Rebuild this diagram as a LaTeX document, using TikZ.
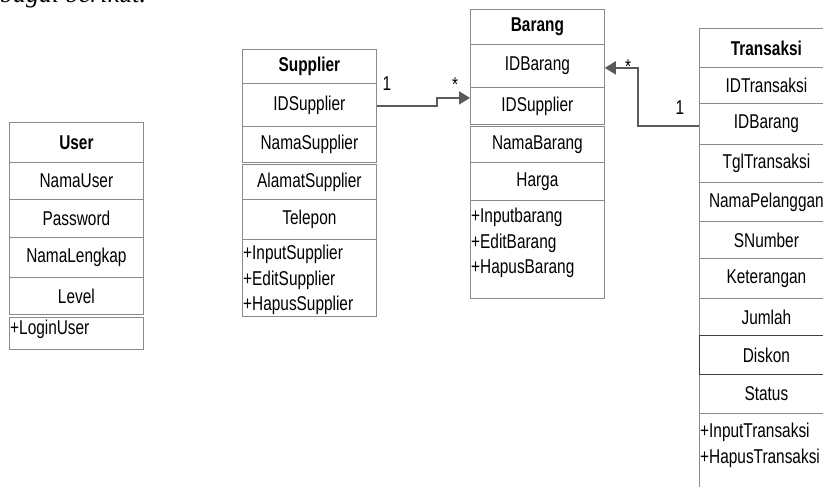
\documentclass[tikz,border=0pt]{standalone}
\usepackage{fontspec}
\setmainfont[FakeStretch=0.77]{Liberation Sans}
\newfontfamily\capfont{Liberation Serif}
\usetikzlibrary{arrows.meta}
\definecolor{boxgray}{HTML}{8A8A8A}
\definecolor{linegray}{HTML}{5A5A5A}
\begin{document}
\begin{tikzpicture}[x=1pt,y=-1pt,
  row/.style={draw=boxgray, line width=0.8pt, minimum width=134pt, minimum height=#1,
    inner sep=0pt, anchor=north west, font=\fontsize{20}{22}\selectfont},
  hdr/.style={row=#1, font=\fontsize{20}{22}\selectfont\bfseries},
  mbox/.style={draw=boxgray, line width=0.8pt, minimum width=134pt, minimum height=#1,
    inner sep=0pt, anchor=north west},
  mtext/.style={anchor=north west, inner sep=0pt, align=left,
    font=\fontsize{20}{25.5}\selectfont},
  lbl/.style={anchor=base, inner sep=0pt, font=\fontsize{20}{22}\selectfont},
  conn/.style={draw=linegray, line width=2pt, -{Triangle[length=11pt,width=13pt]}}
]
\useasboundingbox (0,0) rectangle (823,487);

% cropped caption line at the top
\node[anchor=base west, inner sep=0pt, font=\capfont\itshape\fontsize{26}{28}\selectfont] (caption) at (0,2.5) {bagai berikut.};

% User
\node[hdr=40pt] (u0) at (9,122) {User};
\node[row=37pt] (u1) at (9,162) {NamaUser};
\node[row=38pt] (u2) at (9,199) {Password};
\node[row=40pt] (u3) at (9,237) {NamaLengkap};
\node[row=37pt] (u4) at (9,277) {Level};
\node[mbox=32pt] (u5) at (9,317) {};
\node[mtext] (u5t) at ([xshift=1pt,yshift=-3pt]u5.north west) {+LoginUser};

% Supplier
\node[hdr=34pt] (s0) at (242,49) {Supplier};
\node[row=43pt] (s1) at (242,83) {IDSupplier};
\node[row=36pt] (s2) at (242,126) {NamaSupplier};
\node[row=35pt] (s3) at (242,164) {AlamatSupplier};
\node[row=40pt] (s4) at (242,199) {Telepon};
\node[mbox=77pt] (s5) at (242,239) {};
\node[mtext] (s5t) at ([xshift=1pt,yshift=-6pt]s5.north west) {+InputSupplier\\+EditSupplier\\+HapusSupplier};

% Barang
\node[hdr=35pt] (b0) at (470,9) {Barang};
\node[row=43pt] (b1) at (470,44) {IDBarang};
\node[row=37pt] (b2) at (470,87) {IDSupplier};
\node[row=36pt] (b3) at (470,126) {NamaBarang};
\node[row=38pt] (b4) at (470,162) {Harga};
\node[mbox=98pt] (b5) at (470,200) {};
\node[mtext] (b5t) at ([xshift=1pt,yshift=-8pt]b5.north west) {+Inputbarang\\+EditBarang\\+HapusBarang};

% Transaksi
\node[hdr=39pt] (t0) at (699,28) {Transaksi};
\node[row=36pt] (t1) at (699,67) {IDTransaksi};
\node[row=41pt] (t2) at (699,103) {IDBarang};
\node[row=38pt] (t3) at (699,144) {TglTransaksi};
\node[row=39pt] (t4) at (699,182) {NamaPelanggan};
\node[row=37pt] (t5) at (699,221) {SNumber};
\node[row=40pt] (t6) at (699,258) {Keterangan};
\node[row=37pt] (t7) at (699,298) {Jumlah};
\node[row=39pt] (t9) at (699,374) {Status};
\node[row=39pt, draw=black!75] (t8) at (699,335) {Diskon};
\node[mbox=90pt] (t10) at (699,413) {};
\node[mtext] (t10t) at ([xshift=1pt,yshift=-10pt]t10.north west) {+InputTransaksi\\+HapusTransaksi};

% connectors
\draw[conn] ([yshift=-1.5pt]s1.east) -- ++(60,0) |- ([yshift=8pt]b2.west);
\draw[conn] ([yshift=-2pt]t2.west) -- ++(-61,0) |- ([yshift=-2pt]b1.east);

% multiplicities
\node[lbl] (m1) at (387,91) {1};
\node[lbl] (m2) at (455,91.5) {*};
\node[lbl] (m3) at (628,73.5) {*};
\node[lbl] (m4) at (680,114) {1};
\end{tikzpicture}
\end{document}
